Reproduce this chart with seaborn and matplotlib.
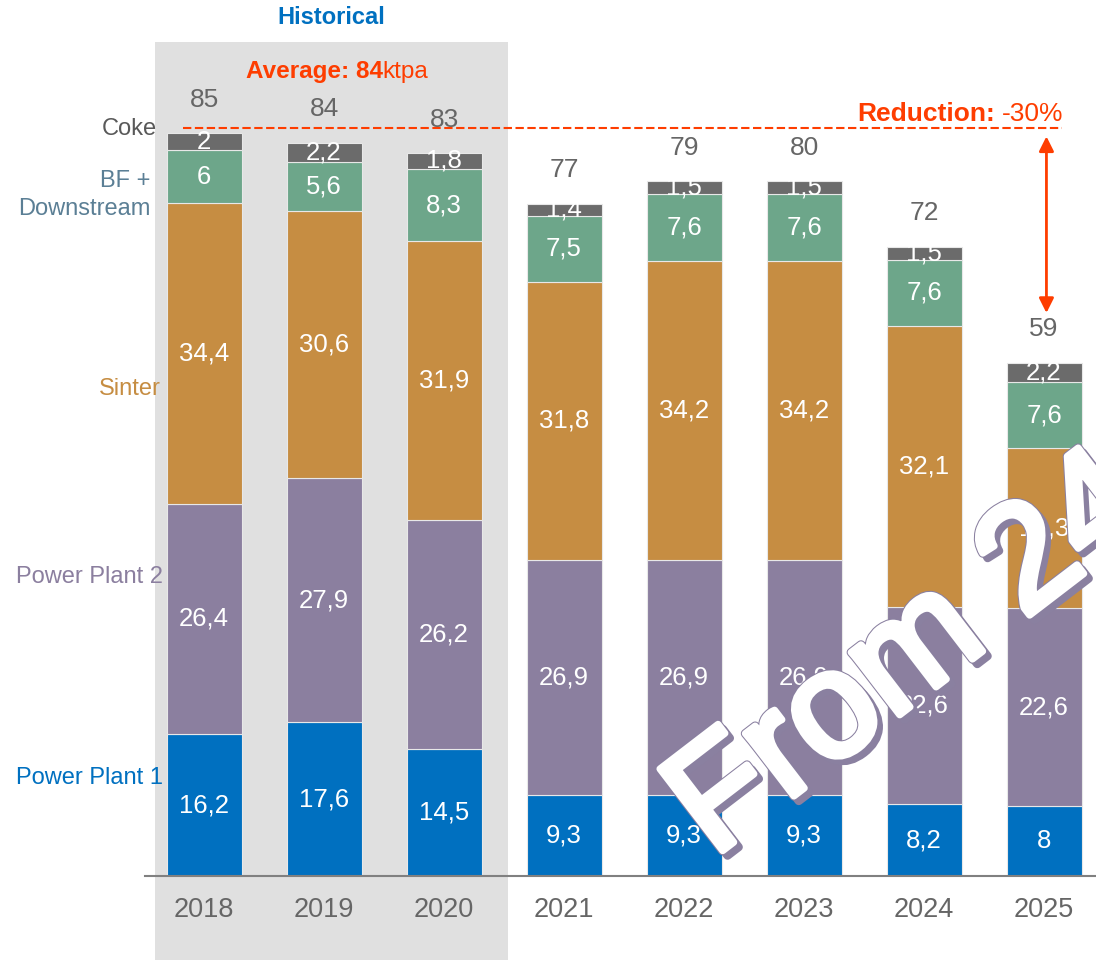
import matplotlib
matplotlib.use("Agg")
import matplotlib.pyplot as plt
import matplotlib.patheffects as pe
from matplotlib.patches import Rectangle
import seaborn as sns
import pandas as pd
import numpy as np

# data (ktpa)
years = ["2018", "2019", "2020", "2021", "2022", "2023", "2024", "2025"]
power_plant_1 = [16.2, 17.6, 14.5, 9.3, 9.3, 9.3, 8.2, 8.0]
power_plant_2 = [26.4, 27.9, 26.2, 26.9, 26.9, 26.9, 22.6, 22.6]
sinter = [34.4, 30.6, 31.9, 31.8, 34.2, 34.2, 32.1, 18.3]
bf_downstream = [6.0, 5.6, 8.3, 7.5, 7.6, 7.6, 7.6, 7.6]
coke = [2.0, 2.2, 1.8, 1.4, 1.5, 1.5, 1.5, 2.2]
totals = [85, 84, 83, 77, 79, 80, 72, 59]

components = ["Power Plant 1", "Power Plant 2", "Sinter", "BF +\nDownstream", "Coke"]
series = [power_plant_1, power_plant_2, sinter, bf_downstream, coke]
colors = ["#0070c0", "#8b7f9f", "#c68d42", "#6da68a", "#6b6b6b"]
label_colors = ["#0070c0", "#8b7f9f", "#c68d42", "#5b7f95", "#595959"]

red = "#fe3d00"
grey_txt = "#666666"
purple = "#8a80a0"

sns.set_style("white")
plt.rcParams["font.family"] = ["Liberation Sans", "DejaVu Sans"]

fig = plt.figure(figsize=(10.96, 9.6), dpi=100)
ax = fig.add_axes([145 / 1096, 84 / 960, 951 / 1096, 876 / 960])
ax.set_facecolor("none")

# historical shading
ax.add_patch(Rectangle((-0.408, -9.61), 2.941, 105.0, facecolor="#e0e0e0",
                       edgecolor="none", zorder=0, clip_on=False))

bottom = np.zeros(len(years))
for name, vals, col in zip(components, series, colors):
    df = pd.DataFrame({"year": years, "value": vals})
    sns.barplot(data=df, x="year", y="value", color=col, width=0.625,
                bottom=bottom, errorbar=None, edgecolor="#e8e8e8",
                linewidth=0.8, saturation=1, ax=ax, zorder=2)
    for i, v in enumerate(vals):
        txt = f"{v:g}".replace(".", ",")
        ax.text(i, bottom[i] + v / 2, txt, ha="center", va="center",
                color="white", fontsize=18.5, zorder=3)
    bottom = bottom + np.array(vals)

for i, t in enumerate(totals):
    ax.annotate(str(t), (i, bottom[i]), xytext=(0, 24), textcoords="offset points",
                ha="center", va="center", fontsize=19, color=grey_txt)

# category labels on the left
label_pos = [(-0.342, 11.2), (-0.342, 34.2), (-0.358, 55.7), (-0.45, 77.9), (-0.392, 85.4)]
for name, (x, y), col in zip(components, label_pos, label_colors):
    ax.text(x, y, name, ha="right", va="center", fontsize=17, color=col,
            linespacing=1.3, clip_on=False)

# headers
ax.text(1.058, 98.16, "Historical", ha="center", va="center", fontsize=17,
        fontweight="bold", color="#0070c0")
t_avg = ax.text(1.49, 91.98, "Average: 84", ha="right", va="center",
                fontsize=17.5, fontweight="bold", color=red)
ax.annotate("ktpa", xy=(1, 0.5), xycoords=t_avg, ha="left", va="center",
            fontsize=17.5, color=red)

# reduction line and arrow
ax.plot([-0.175, 7.15], [85.57, 85.57], color=red, lw=1.5, ls=(0, (4, 1.7)), zorder=4)
t_red = ax.text(7.158, 87.17, "-30%", ha="right", va="center", fontsize=19, color=red)
ax.annotate("Reduction:", xy=(0, 0.5), xycoords=t_red, xytext=(-5, 0),
            textcoords="offset points", ha="right", va="center",
            fontsize=19, fontweight="bold", color=red)
ax.annotate("", xy=(7.02, 64.4), xytext=(7.02, 84.6),
            arrowprops=dict(arrowstyle="<|-|>", color=red, lw=2, mutation_scale=22,
                            shrinkA=0, shrinkB=0))

ax.set_xlim(-0.492, 7.433)
ax.set_ylim(0, 100.2)
ax.set_xlabel("")
ax.set_ylabel("")
ax.set_yticks([])
ax.tick_params(axis="x", length=0, pad=15, labelsize=19.5, labelcolor=grey_txt)
for s in ["left", "right", "top"]:
    ax.spines[s].set_visible(False)
ax.spines["bottom"].set_color("#808080")
ax.spines["bottom"].set_linewidth(1.5)
ax.spines["bottom"].set_zorder(5)

# watermark
fig.text(0.6505, 0.106, "From 24", rotation=37.5, rotation_mode="anchor",
         ha="left", va="baseline", fontsize=108, color="white", zorder=10,
         path_effects=[pe.SimplePatchShadow(offset=(3.5, -3.5), shadow_rgbFace=purple, alpha=1),
                       pe.Stroke(offset=(3.5, -3.5), linewidth=6, foreground=purple),
                       pe.Stroke(linewidth=6.5, foreground=purple),
                       pe.Stroke(linewidth=5, foreground="white"),
                       pe.Normal()])

fig.savefig("out.png", dpi=100, facecolor="white")
